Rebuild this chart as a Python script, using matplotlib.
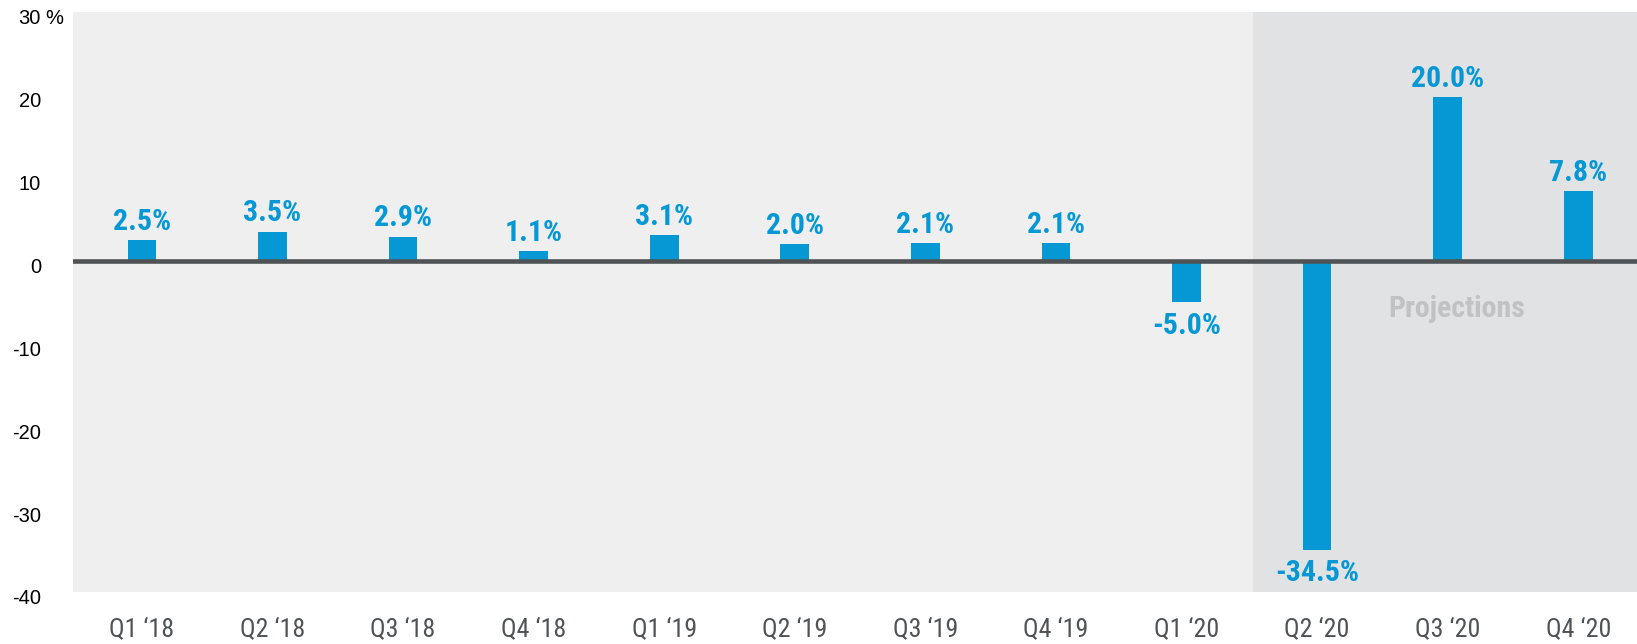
import matplotlib
matplotlib.use('Agg')
import matplotlib.pyplot as plt
from matplotlib import font_manager
from matplotlib.font_manager import FontProperties

quarters = ["Q1 \u201818", "Q2 \u201818", "Q3 \u201818", "Q4 \u201818",
            "Q1 \u201819", "Q2 \u201819", "Q3 \u201819", "Q4 \u201819",
            "Q1 \u201820", "Q2 \u201820", "Q3 \u201820", "Q4 \u201820"]
growth = [2.5, 3.5, 2.9, 1.1, 3.1, 2.0, 2.1, 2.1, -5.0, -34.5, 20.0, 7.8]
# bar heights as drawn (slightly differ from the printed labels in the source)
heights = [2.5, 3.5, 2.9, 1.1, 3.1, 2.0, 2.1, 2.1, -5.0, -34.9, 19.7, 8.4]
first_projection = 9
yticks = [30, 20, 10, 0, -10, -20, -30, -40]
ytick_labels = ["30", "20", "10", "0", "-10", "-20", "-30", "-40"]


def weight_num(w):
    if isinstance(w, int):
        return w
    return font_manager.weight_dict.get(str(w), 400)


def find_condensed(target):
    # pick a sans, upright, condensed face with weight nearest to target
    pref = ["Roboto Condensed", "Liberation Sans Narrow", "Noto Sans", "Open Sans",
            "DejaVu Sans"]
    cands = []
    for f in font_manager.fontManager.ttflist:
        low = (f.name + " " + f.fname).lower()
        if "serif" in low.replace("sans-serif", "") or "mono" in low:
            continue
        if f.style != "normal" or "italic" in low or "oblique" in low:
            continue
        st = str(f.stretch).lower()
        if not (st in ("condensed", "semi-condensed") or "condensed" in low or "narrow" in low):
            continue
        rank = next((i for i, p in enumerate(pref) if f.name.startswith(p)), len(pref))
        cands.append((rank, 0 if st == "condensed" else 1,
                      abs(weight_num(f.weight) - target), f.fname))
    if not cands:
        return FontProperties(family="Roboto", weight=target), False
    cands.sort()
    return FontProperties(fname=cands[0][3]), True


cond_bold, ok_b = find_condensed(700)
cond_reg, ok_r = find_condensed(400)

BLUE = "#0598d5"
DARK = "#4f5356"

fig = plt.figure(figsize=(16.37, 6.44), dpi=100)
ax = fig.add_axes([73 / 1637, 1 - 592 / 644, 1 - 73 / 1637, 580 / 644])
ax.set_facecolor("#efefef")

x = list(range(len(quarters)))
ax.set_xlim(-0.528, 11.45)
ax.set_ylim(-40, 30)

ax.axvspan(first_projection - 0.49, 11.45, color="#e1e2e4", zorder=0, lw=0)
ax.bar(x, heights, width=0.22, color=BLUE, zorder=2)
ax.axhline(0, color=DARK, lw=3.3, zorder=3)

val_size = 21.5 if ok_b else 17
for xi, h, v in zip(x, heights, growth):
    if v >= 0:
        ax.annotate(f"{v:.1f}%", (xi, h), xytext=(0, 3), textcoords="offset points",
                    ha="center", va="bottom", fontproperties=cond_bold,
                    fontsize=val_size, color=BLUE)
    else:
        ax.annotate(f"{v:.1f}%", (xi, h), xytext=(0, -7), textcoords="offset points",
                    ha="center", va="top", fontproperties=cond_bold,
                    fontsize=val_size, color=BLUE)

ax.text(10.07, -5.8, "Projections", ha="center", va="center", fontproperties=cond_bold,
        fontsize=val_size, color="#c1c2c4")

ax.set_xticks(x)
ax.set_xticklabels(quarters, fontproperties=cond_reg, fontsize=18.7 if ok_r else 15,
                   color=DARK)
ax.tick_params(axis="x", length=0, pad=19)

ax.set_yticks([])
for val, lab in zip(yticks, ytick_labels):
    ax.annotate(lab, xy=(0, val), xycoords=("axes fraction", "data"),
                xytext=(-32, -7), textcoords="offset pixels", ha="right", va="center",
                fontsize=14.5, color="black", family="Liberation Sans",
                annotation_clip=False)
ax.annotate("%", xy=(0, 30), xycoords=("axes fraction", "data"),
            xytext=(-28, -7), textcoords="offset pixels", ha="left", va="center",
            fontsize=14.5, color="black", family="Liberation Sans",
            annotation_clip=False)

for s in ax.spines.values():
    s.set_visible(False)

fig.savefig("out.png", dpi=100)
